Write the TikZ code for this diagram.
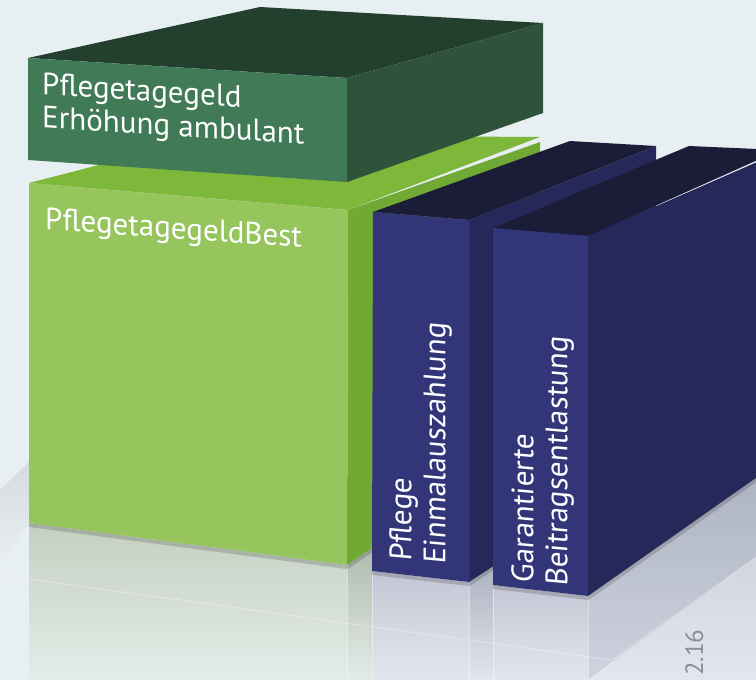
\documentclass[tikz,border=0pt]{standalone}
\usepackage{fontspec}
\setmainfont{PT Sans}
\definecolor{bgcol}{HTML}{E8EFF3}
\definecolor{topdark}{HTML}{23402F}
\definecolor{frontdark}{HTML}{417A56}
\definecolor{sidedark}{HTML}{2E533A}
\definecolor{topgreen}{HTML}{7DB83B}
\definecolor{frontgreen}{HTML}{96C45D}
\definecolor{sidegreen}{HTML}{70A933}
\definecolor{topblue}{HTML}{1B1C38}
\definecolor{frontblue}{HTML}{323578}
\definecolor{sideblue}{HTML}{27285A}
\definecolor{reflgreen}{HTML}{C4CFC1}
\definecolor{fadegreen}{HTML}{E4ECE8}
\definecolor{reflblue}{HTML}{C3C7D4}
\definecolor{reflside}{HTML}{ACB1BF}
\definecolor{fadeblue}{HTML}{E2E7EE}
\definecolor{floorblue}{HTML}{CED3DF}
\definecolor{numgray}{HTML}{8A8F96}
\tikzset{
  boxtext/.style={text=white, font=\fontsize{31}{33}\selectfont, inner sep=0pt, align=left},
  spinetext/.style={boxtext, font=\fontsize{31}{34}\selectfont, rotate=90, xslant=0.09, anchor=north west},
  contact/.style={line width=4pt, draw=black, draw opacity=.16},
  seam/.style={white, line width=.6pt, opacity=.45}
}
\begin{document}
\begin{tikzpicture}[x=1pt,y=-1pt]
\useasboundingbox (0,0) rectangle (756,680);
\clip (0,0) rectangle (756,680);
\fill[bgcol] (0,0) rectangle (756,680);

% floor and reflections
\shade[top color=bgcol!82!gray, bottom color=bgcol] (0,490) -- (29,462) -- (29,523) -- (0,565) -- cycle;
\shade[top color=reflgreen, bottom color=fadegreen] (29,523) -- (347,565) -- (347,680) -- (29,680) -- cycle;
\shade[top color=reflgreen!90!black, bottom color=fadegreen] (347,565) -- (372,548) -- (372,680) -- (347,680) -- cycle;
\shade[top color=reflblue, bottom color=fadeblue] (372,571) -- (469,582) -- (469,680) -- (372,680) -- cycle;
\shade[top color=reflside, bottom color=fadeblue] (469,582) -- (493,566) -- (493,680) -- (469,680) -- cycle;
\shade[top color=reflblue, bottom color=fadeblue] (493,585) -- (588,596) -- (588,680) -- (493,680) -- cycle;
\shade[top color=reflside, bottom color=floorblue] (588,596) -- (780,461) -- (780,540) -- (612,662) -- (588,680) -- cycle;
\shade[top color=floorblue, bottom color=fadeblue] (612,662) -- (780,540) -- (780,680) -- (588,680) -- cycle;
\draw[seam] (0,575) -- (612,660) -- (780,540);
\foreach \x/\y in {347/565, 372/548, 469/582, 493/566, 588/596}
  \draw[seam] (\x,\y) -- (\x,680);

% contact shadows
\draw[contact] (29,525) -- (347,567) -- (372,550);
\draw[contact] (372,573) -- (469,584) -- (493,568);
\draw[contact] (493,587) -- (588,598) -- (780,463);

% base box
\fill[topgreen] (29,183) -- (215,135) -- (540,137) -- (348,210) -- cycle;
\fill[sidegreen] (348,210) -- (540,142) -- (540,434) -- (347,565) -- cycle;
\fill[frontgreen] (29,183) -- (348,210) -- (347,565) -- (29,523) -- cycle;

% top box
\fill[topdark] (28,58) -- (260,7) -- (543,23) -- (347,78) -- cycle;
\fill[sidedark] (347,78) -- (543,23) -- (543,113) -- (347,182) -- cycle;
\fill[frontdark] (28,58) -- (347,78) -- (347,182) -- (28,160) -- cycle;

% first spine
\fill[topblue] (373,212) -- (570,141) -- (656,146) -- (469,220) -- cycle;
\fill[sideblue] (469,220) -- (656,146) -- (656,460) -- (469,582) -- cycle;
\fill[frontblue] (373,212) -- (469,220) -- (469,582) -- (372,571) -- cycle;

% second spine
\fill[topblue] (493,228) -- (689,146) -- (780,150) -- (588,236) -- cycle;
\fill[sideblue] (588,236) -- (780,152) -- (780,461) -- (588,596) -- cycle;
\fill[frontblue] (493,228) -- (588,236) -- (588,596) -- (493,585) -- cycle;

% labels
\node[boxtext, anchor=north west, yslant=-0.065] (ttop) at (42,72) {Pflegetagegeld\\Erhöhung ambulant};
\node[boxtext, anchor=north west, yslant=-0.07] (tbase) at (45,207) {PflegetagegeldBest};
\node[spinetext] (tspineA) at (389,560) {Pflege\\Einmalauszahlung};
\node[spinetext] (tspineB) at (511,582) {Garantierte\\Beitragsentlastung};
\node[text=numgray, font=\fontsize{25}{25}\selectfont, inner sep=0pt, rotate=90, anchor=base west] (tdate) at (703,676) {2.16};
\end{tikzpicture}
\end{document}
